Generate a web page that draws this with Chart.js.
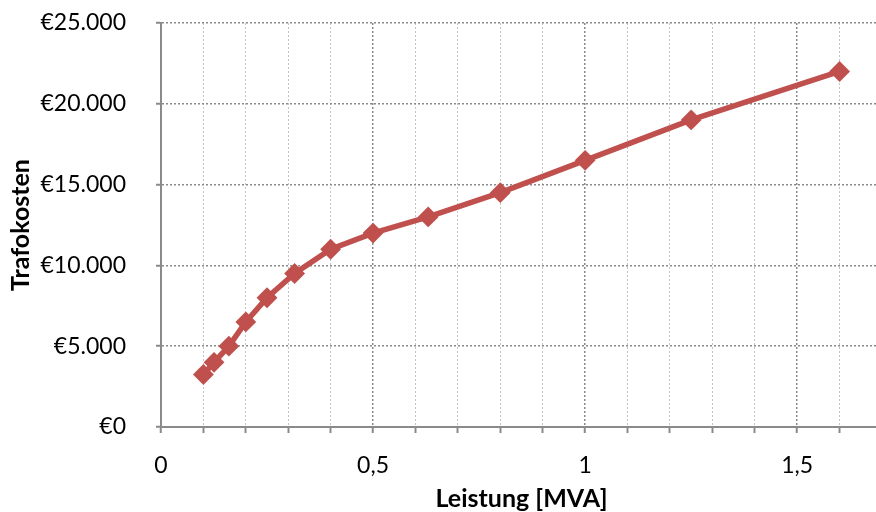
<!DOCTYPE html>
<html>
<head>
<meta charset="utf-8">
<script src="https://cdn.jsdelivr.net/npm/chart.js@4/dist/chart.umd.min.js"></script>
<style>
  html, body { margin: 0; padding: 0; background: #fff; overflow: hidden; }
  #wrap { width: 890px; height: 512px; }
</style>
</head>
<body>
<div id="wrap"><canvas id="c" width="890" height="512"></canvas></div>
<script>
// Data
const powerMVA = [0.1, 0.125, 0.16, 0.2, 0.25, 0.315, 0.4, 0.5, 0.63, 0.8, 1.0, 1.25, 1.6];
const costEUR  = [3250, 4000, 5000, 6500, 8000, 9500, 11000, 12000, 13000, 14500, 16500, 19000, 22000];
const xTickLabels = { 0: '0', 5: '0,5', 10: '1', 15: '1,5' };
const xTitle = 'Leistung [MVA]';
const yTitle = 'Trafokosten';

const points = powerMVA.map((x, i) => ({ x: x, y: costEUR[i] }));
const FONT = 'Lato, "Open Sans", sans-serif';
const red = '#c0504d';

function euro(v) {
  return '€' + String(Math.round(v)).replace(/\B(?=(\d{3})+(?!\d))/g, '.');
}
function isMajorX(v) { return Math.round(v * 10) % 5 === 0; }

new Chart(document.getElementById('c'), {
  type: 'scatter',
  data: {
    datasets: [{
      data: points,
      showLine: true,
      clip: false,
      borderColor: red,
      backgroundColor: red,
      borderWidth: 5.5,
      pointStyle: 'rectRot',
      pointRadius: 9,
      pointBorderWidth: 2,
      pointBorderColor: red,
      pointBackgroundColor: red,
      tension: 0
    }]
  },
  options: {
    responsive: false,
    animation: false,
    events: [],
    layout: { autoPadding: false, padding: { left: 0, top: 23, right: 8, bottom: 0 } },
    plugins: { legend: { display: false }, tooltip: { enabled: false } },
    scales: {
      x: {
        type: 'linear',
        min: 0, max: 1.7,
        afterFit: s => { s.height = 85; s.paddingLeft = 0; s.paddingRight = 0; },
        ticks: {
          stepSize: 0.1,
          autoSkip: false,
          maxRotation: 0,
          padding: 19,
          color: '#000',
          font: { family: FONT, size: 23 },
          callback: v => {
            const k = Math.round(v * 10);
            return xTickLabels[k] !== undefined ? xTickLabels[k] : '';
          }
        },
        grid: {
          color: ctx => isMajorX(ctx.tick.value) ? '#8a8a8a' : '#c4c4c4',
          lineWidth: ctx => isMajorX(ctx.tick.value) ? 1.5 : 1,
          tickColor: '#8a8a8a',
          tickLength: 6,
          tickWidth: 2,
          drawTicks: true
        },
        border: { display: true, color: '#8a8a8a', width: 2, dash: [2, 2] },
        title: {
          display: true,
          text: xTitle,
          color: '#000',
          font: { family: FONT, size: 25, weight: 'bold' },
          padding: { top: 0, bottom: -2 }
        }
      },
      y: {
        min: 0, max: 25000,
        afterFit: s => { s.width = 161; s.paddingTop = 0; s.paddingBottom = 0; },
        ticks: {
          stepSize: 5000,
          padding: 30,
          color: '#000',
          font: { family: FONT, size: 23 },
          callback: v => euro(v)
        },
        grid: {
          color: '#8a8a8a',
          lineWidth: 1.5,
          tickColor: '#8a8a8a',
          tickLength: 5,
          tickWidth: 2
        },
        border: { display: true, color: '#8a8a8a', width: 2, dash: [2, 2] },
        title: {
          display: true,
          text: yTitle,
          color: '#000',
          font: { family: FONT, size: 25, weight: 'bold' },
          padding: { top: 6, bottom: 0 }
        }
      }
    }
  }
});
</script>
</body>
</html>
